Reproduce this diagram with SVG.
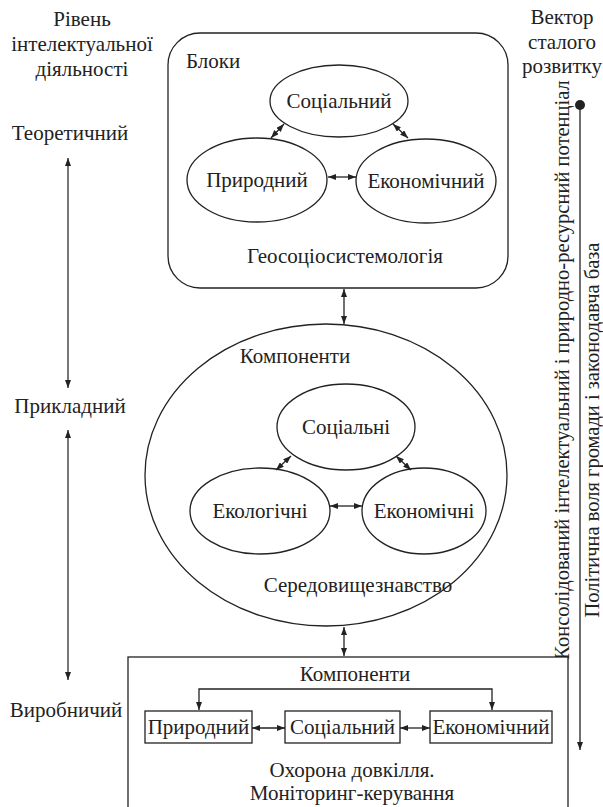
<svg xmlns="http://www.w3.org/2000/svg" width="603" height="807" viewBox="0 0 603 807" font-family="Liberation Serif">
<defs>
<marker id="ah" viewBox="0 0 8 6" refX="8" refY="3" markerWidth="8" markerHeight="6" markerUnits="userSpaceOnUse" orient="auto-start-reverse"><path d="M0,0 L8,3 L0,6 z" fill="#222"/></marker>
</defs>
<rect width="603" height="807" fill="#fff"/>
<g id="left-labels" font-size="21" fill="#222" text-anchor="middle">
<text style="font-family:'Liberation Serif',serif" x="82" y="26">Рівень</text>
<text style="font-family:'Liberation Serif',serif" x="82" y="51">інтелектуальної</text>
<text style="font-family:'Liberation Serif',serif" x="82" y="76">діяльності</text>
<text style="font-family:'Liberation Serif',serif" x="70" y="140">Теоретичний</text>
<text style="font-family:'Liberation Serif',serif" x="70" y="413">Прикладний</text>
<text style="font-family:'Liberation Serif',serif" x="66" y="717">Виробничий</text>
</g>
<g id="right-labels" font-size="21" fill="#222" text-anchor="middle">
<text style="font-family:'Liberation Serif',serif" x="562" y="24">Вектор</text>
<text style="font-family:'Liberation Serif',serif" x="562" y="49">сталого</text>
<text style="font-family:'Liberation Serif',serif" x="562" y="73">розвитку</text>
<text style="font-family:'Liberation Serif',serif" font-size="20.5" transform="translate(569,370) rotate(-90)">Консолідований інтелектуальний і природно-ресурсний потенціал</text>
<text style="font-family:'Liberation Serif',serif" font-size="20.5" transform="translate(599,430) rotate(-90)">Політична воля громади і законодавча база</text>
</g>
<g id="blocks" font-size="21" fill="#222">
<rect x="168" y="33" width="340" height="255" rx="32" fill="#fff" stroke="#222" stroke-width="1.3"/>
<text style="font-family:'Liberation Serif',serif" x="186" y="68">Блоки</text>
<text style="font-family:'Liberation Serif',serif" text-anchor="middle" x="345" y="263">Геосоціосистемологія</text>
</g>
<g font-size="21" text-anchor="middle">
<g id="b-social"><ellipse cx="339" cy="101" rx="69" ry="36" fill="#fff" stroke="#222" stroke-width="1.3"/><text style="font-family:'Liberation Serif',serif" fill="#222" x="339" y="108">Соціальний</text></g>
<g id="b-nature"><ellipse cx="257" cy="180" rx="70" ry="42" fill="#fff" stroke="#222" stroke-width="1.3"/><text style="font-family:'Liberation Serif',serif" fill="#222" x="257" y="187">Природний</text></g>
<g id="b-econ"><ellipse cx="426" cy="181" rx="70" ry="42" fill="#fff" stroke="#222" stroke-width="1.3"/><text style="font-family:'Liberation Serif',serif" fill="#222" x="426" y="188">Економічний</text></g>
<g id="components">
<ellipse cx="326" cy="475" rx="181" ry="151" fill="#fff" stroke="#222" stroke-width="1.3"/>
<text style="font-family:'Liberation Serif',serif" fill="#222" x="295" y="363">Компоненти</text>
<text style="font-family:'Liberation Serif',serif" fill="#222" x="358" y="592">Середовищезнавство</text>
</g>
<g id="c-social"><ellipse cx="346" cy="427" rx="69" ry="43" fill="#fff" stroke="#222" stroke-width="1.3"/><text style="font-family:'Liberation Serif',serif" fill="#222" x="346" y="434">Соціальні</text></g>
<g id="c-eco"><ellipse cx="260" cy="511" rx="70" ry="43" fill="#fff" stroke="#222" stroke-width="1.3"/><text style="font-family:'Liberation Serif',serif" fill="#222" x="260" y="518">Екологічні</text></g>
<g id="c-econ"><ellipse cx="424" cy="511" rx="62" ry="43" fill="#fff" stroke="#222" stroke-width="1.3"/><text style="font-family:'Liberation Serif',serif" fill="#222" x="424" y="518">Економічні</text></g>
<g id="production">
<rect x="128" y="657" width="440" height="170" fill="#fff" stroke="#222" stroke-width="1.3"/>
<text style="font-family:'Liberation Serif',serif" fill="#222" x="355" y="681">Компоненти</text>
<text style="font-family:'Liberation Serif',serif" fill="#222" x="352" y="777">Охорона довкілля.</text>
<text style="font-family:'Liberation Serif',serif" fill="#222" x="352" y="800">Моніторинг-керування</text>
</g>
<g id="p-nature"><rect x="145" y="711" width="107" height="32" fill="#fff" stroke="#222" stroke-width="1.3"/><text style="font-family:'Liberation Serif',serif" fill="#222" x="198.5" y="734">Природний</text></g>
<g id="p-social"><rect x="285" y="711" width="115" height="32" fill="#fff" stroke="#222" stroke-width="1.3"/><text style="font-family:'Liberation Serif',serif" fill="#222" x="342.5" y="734">Соціальний</text></g>
<g id="p-econ"><rect x="430" y="711" width="122" height="32" fill="#fff" stroke="#222" stroke-width="1.3"/><text style="font-family:'Liberation Serif',serif" fill="#222" x="491" y="734">Економічний</text></g>
</g>
<g id="connectors" fill="none" stroke="#222" stroke-width="1.3">
<g stroke="#555" stroke-width="1.6">
<line x1="68" y1="158" x2="68" y2="388" marker-start="url(#ah)" marker-end="url(#ah)"/>
<line x1="68" y1="430" x2="68" y2="680" marker-start="url(#ah)" marker-end="url(#ah)"/>
</g>
<line x1="580" y1="105" x2="580" y2="750" marker-end="url(#ah)"/>
<circle cx="580" cy="105" r="5" fill="#222" stroke="none"/>
<line x1="271" y1="138" x2="284" y2="124" marker-start="url(#ah)" marker-end="url(#ah)"/>
<line x1="393" y1="124" x2="408" y2="138" marker-start="url(#ah)" marker-end="url(#ah)"/>
<line x1="328" y1="177" x2="356" y2="177" marker-start="url(#ah)" marker-end="url(#ah)"/>
<line x1="344" y1="289" x2="344" y2="324" marker-start="url(#ah)" marker-end="url(#ah)"/>
<line x1="276" y1="470" x2="291" y2="456" marker-start="url(#ah)" marker-end="url(#ah)"/>
<line x1="396" y1="456" x2="411" y2="470" marker-start="url(#ah)" marker-end="url(#ah)"/>
<line x1="330" y1="506" x2="362" y2="506" marker-start="url(#ah)" marker-end="url(#ah)"/>
<line x1="344" y1="627" x2="344" y2="656" marker-start="url(#ah)" marker-end="url(#ah)"/>
<path d="M199,710 V689 H492 V710" marker-start="url(#ah)" marker-end="url(#ah)"/>
<line x1="252" y1="728" x2="285" y2="728" marker-start="url(#ah)" marker-end="url(#ah)"/>
<line x1="400" y1="728" x2="430" y2="728" marker-start="url(#ah)" marker-end="url(#ah)"/>
</g>
</svg>
